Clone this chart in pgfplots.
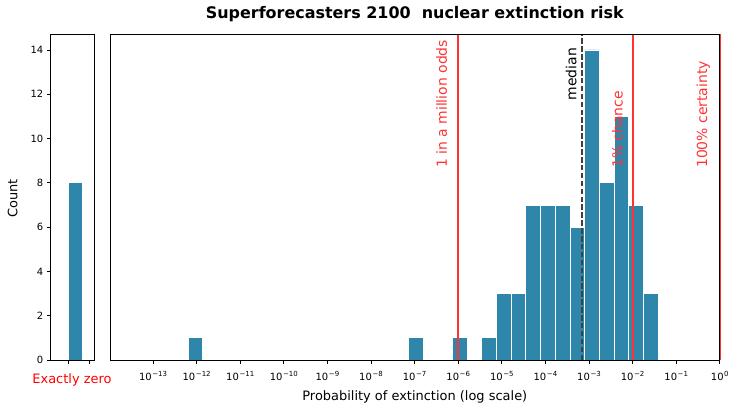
\documentclass[border=0pt]{standalone}
\usepackage{fontspec}
\setmainfont{DejaVu Sans}
\usepackage{pgfplots}
\pgfplotsset{compat=1.18}
\definecolor{barblue}{RGB}{46,134,171}
\definecolor{myred}{RGB}{255,51,51}
\definecolor{medgray}{RGB}{64,64,64}
\newcommand{\sz}[1]{\fontsize{#1}{#1}\selectfont}
\newcommand{\tl}[1]{10\kern0.6bp\raisebox{3.9bp}{\sz{7}#1}}
\begin{document}
\begin{tikzpicture}[x=1bp,y=1bp]
\useasboundingbox (0,0) rectangle (736,411);
% left axis: exactly zero
\begin{axis}[at={(50.3bp,51bp)}, anchor=south west, scale only axis,
  width=44bp, height=325.5bp,
  xmin=0, xmax=1, ymin=0, ymax=14.7,
  ytick={0,2,...,14}, xtick={0.4,0.89}, xticklabels={},
  tick align=outside, xtick pos=bottom, ytick pos=left,
  major tick length=3.5bp, axis line style={line width=0.8bp},
  every tick/.style={black, line width=0.8bp},
  yticklabel style={font=\sz{10}},
  /pgf/number format/assume math mode=true,
  axis on top, clip=false]
\addplot[ybar interval, fill=barblue, draw=white, line width=0.8bp] coordinates {(0.4,8) (0.73,8)};
\end{axis}
% right axis: log-scale histogram (x in log10 units)
\begin{axis}[at={(110.3bp,51bp)}, anchor=south west, scale only axis,
  width=609.5bp, height=325.5bp,
  xmin=-13.98, xmax=0, ymin=0, ymax=14.7,
  ytick=\empty,
  xtick={-13,-12,...,0},
  xticklabels={\tl{−13},\tl{−12},\tl{−11},\tl{−10},\tl{−9},\tl{−8},\tl{−7},\tl{−6},\tl{−5},\tl{−4},\tl{−3},\tl{−2},\tl{−1},\tl{0}},
  tick align=outside, xtick pos=bottom,
  major tick length=3.5bp, axis line style={line width=0.8bp},
  every tick/.style={black, line width=0.8bp},
  xticklabel style={font=\sz{10}, anchor=base, yshift=-17bp},
  axis on top, clip=false]
\addplot[ybar interval, fill=barblue, draw=white, line width=0.8bp] coordinates {(-12.200,1) (-11.863,1)};
\addplot[ybar interval, fill=barblue, draw=white, line width=0.8bp] coordinates {(-7.145,1) (-6.808,1)};
\addplot[ybar interval, fill=barblue, draw=white, line width=0.8bp] coordinates {(-6.134,1) (-5.797,1)};
\addplot[ybar interval, fill=barblue, draw=white, line width=0.8bp] coordinates {
(-5.460,1) (-5.123,3) (-4.786,3) (-4.449,7) (-4.112,7) (-3.775,7) (-3.438,6)
(-3.101,14) (-2.764,8) (-2.427,11) (-2.090,7) (-1.753,3) (-1.416,3)};
\addplot[myred, line width=1.8bp] coordinates {(-6,0) (-6,14.7)};
\addplot[myred, line width=1.8bp] coordinates {(-2,0) (-2,14.7)};
\addplot[myred, line width=1.8bp] coordinates {(0,0) (0,14.7)};
\addplot[medgray, line width=1.8bp, dash pattern=on 5.5bp off 2.4bp] coordinates {(-3.155,0) (-3.155,14.7)};
\node[rotate=90, anchor=south west, inner sep=0pt, text=myred, font=\sz{14}] at ([xshift=-11bp]axis cs:-6,8.67) {1 in a million odds};
\node[rotate=90, anchor=south west, inner sep=0pt, text=myred, font=\sz{14}] at ([xshift=-9.5bp]axis cs:-2,8.67) {1\% chance};
\node[rotate=90, anchor=south west, inner sep=0pt, text=myred, font=\sz{14}] at ([xshift=-9.5bp]axis cs:0,8.67) {100\% certainty};
\node[rotate=90, anchor=south west, inner sep=0pt, text=black, font=\sz{14}] at ([xshift=-5.5bp]axis cs:-3.155,11.72) {median};
\end{axis}
\node[anchor=base, font=\bfseries\sz{16}] at (414.8,392) {Superforecasters 2100\ \ nuclear extinction risk};
\node[anchor=base, font=\sz{13}] at (414.8,11) {Probability of extinction (log scale)};
\node[anchor=base, rotate=90, font=\sz{13}] at (17.3,212.3) {Count};
\node[anchor=base, text=red, font=\sz{13}] at (72,28) {Exactly zero};
\end{tikzpicture}
\end{document}
